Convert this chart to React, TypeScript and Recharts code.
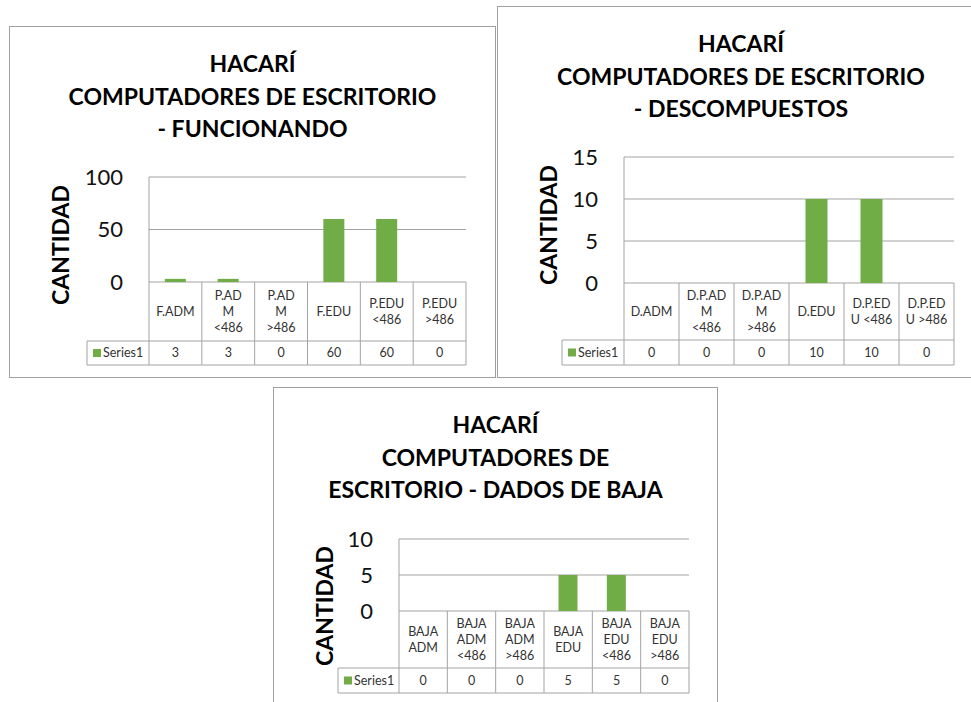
import React from "react";
import { BarChart, Bar, XAxis, YAxis, CartesianGrid } from "recharts";

// Funcionando
const funcCategories = ["F.ADM", "P.AD\nM\n<486", "P.AD\nM\n>486", "F.EDU", "P.EDU\n<486", "P.EDU\n>486"];
const funcValues = [3, 3, 0, 60, 60, 0];
const funcTicks = [0, 50, 100];

// Descompuestos
const descCategories = ["D.ADM", "D.P.AD\nM\n<486", "D.P.AD\nM\n>486", "D.EDU", "D.P.ED\nU <486", "D.P.ED\nU >486"];
const descValues = [0, 0, 0, 10, 10, 0];
const descTicks = [0, 5, 10, 15];

// Dados de baja
const bajaCategories = ["BAJA\nADM", "BAJA\nADM\n<486", "BAJA\nADM\n>486", "BAJA\nEDU", "BAJA\nEDU\n<486", "BAJA\nEDU\n>486"];
const bajaValues = [0, 0, 0, 5, 5, 0];
const bajaTicks = [0, 5, 10];

const seriesName = "Series1";

const GREEN = "#70AD47";
const LINE = "#a3a3a3";
const FONT = "Lato, 'Open Sans', sans-serif";

type Geo = {
  frame: { x: number; y: number; w: number; h: number };
  left: number;
  right: number;
  top: number;
  zero: number;
  catBottom: number;
  tableBottom: number;
  seriesLeft: number;
};

const TableTick = (props: any) => {
  const { x, payload, index, band, values, g } = props;
  const i = payload?.index ?? index;
  const lines: string[] = String(payload.value).split("\n");
  const x0 = x - band / 2;
  const x1 = x + band / 2;
  const catMid = (g.zero + g.catBottom) / 2;
  const valMid = (g.catBottom + g.tableBottom) / 2;
  const lh = 16;
  const startY = catMid - ((lines.length - 1) * lh) / 2;
  const last = i === values.length - 1;
  return (
    <g>
      <line x1={x0} x2={x0} y1={g.zero} y2={g.tableBottom} stroke={LINE} />
      {last && <line x1={x1} x2={x1} y1={g.zero} y2={g.tableBottom} stroke={LINE} />}
      <line x1={x0} x2={x1} y1={g.catBottom} y2={g.catBottom} stroke={LINE} />
      <line x1={x0} x2={x1} y1={g.tableBottom} y2={g.tableBottom} stroke={LINE} />
      {lines.map((l, k) => (
        <text key={k} x={x} y={startY + k * lh} dy="0.35em" textAnchor="middle" fontSize={12.5} fill="#333" fontFamily={FONT}>
          {l}
        </text>
      ))}
      <text x={x} y={valMid} dy="0.35em" textAnchor="middle" fontSize={12.5} fill="#333" fontFamily={FONT}>
        {values[i]}
      </text>
      {i === 0 && (
        <g>
          <line x1={g.seriesLeft} x2={x0} y1={g.catBottom} y2={g.catBottom} stroke={LINE} />
          <line x1={g.seriesLeft} x2={x0} y1={g.tableBottom} y2={g.tableBottom} stroke={LINE} />
          <line x1={g.seriesLeft} x2={g.seriesLeft} y1={g.catBottom} y2={g.tableBottom} stroke={LINE} />
          <rect x={g.seriesLeft + 6} y={valMid - 4} width={8} height={8} fill={GREEN} />
          <text x={g.seriesLeft + 16} y={valMid} dy="0.35em" fontSize={12.5} fill="#333" fontFamily={FONT}>
            {seriesName}
          </text>
        </g>
      )}
    </g>
  );
};

function Panel({ geo, title, categories, values, ticks }: { geo: Geo; title: string[]; categories: string[]; values: number[]; ticks: number[] }) {
  const f = geo.frame;
  // frame-relative geometry
  const g = {
    zero: geo.zero - f.y,
    catBottom: geo.catBottom - f.y,
    tableBottom: geo.tableBottom - f.y,
    seriesLeft: geo.seriesLeft - f.x,
  };
  const band = (geo.right - geo.left) / categories.length;
  const data = categories.map((c, i) => ({ name: c, value: values[i] }));
  return (
    <div style={{ position: "absolute", left: f.x, top: f.y, width: f.w, height: f.h, background: "#fff" }}>
      <div style={{ position: "absolute", inset: 0, border: "1px solid #a0a0a0" }} />
      <div
        style={{
          position: "absolute",
          left: 0,
          width: f.w,
          top: 21,
          textAlign: "center",
          fontFamily: FONT,
          fontWeight: 700,
          fontSize: 23,
          lineHeight: "32.5px",
          color: "#000",
        }}
      >
        {title.map((t, i) => (
          <div key={i}>{t}</div>
        ))}
      </div>
      <div
        style={{
          position: "absolute",
          left: 51,
          top: 219,
          transform: "translate(-50%, -50%) rotate(-90deg)",
          fontFamily: FONT,
          fontWeight: 700,
          fontSize: 23,
          whiteSpace: "nowrap",
          color: "#000",
        }}
      >
        CANTIDAD
      </div>
      <div style={{ position: "absolute", left: 0, top: 0 }}>
        <BarChart
          width={f.w}
          height={f.h}
          data={data}
          barCategoryGap="30%"
          margin={{ top: geo.top - f.y, right: f.x + f.w - geo.right, left: 0, bottom: f.y + f.h - geo.tableBottom }}
        >
          <CartesianGrid vertical={false} stroke={LINE} />
          <XAxis
            dataKey="name"
            height={geo.tableBottom - geo.zero}
            axisLine={false}
            tickLine={false}
            tickSize={0}
            tickMargin={0}
            interval={0}
            tick={<TableTick band={band} values={values} g={g} />}
          />
          <YAxis
            width={geo.left - f.x}
            domain={[0, ticks[ticks.length - 1]]}
            ticks={ticks}
            axisLine={{ stroke: LINE }}
            tickLine={false}
            tickSize={0}
            tickMargin={26}
            tick={{ fontSize: 22, fill: "#111", fontFamily: FONT }}
          />
          <Bar dataKey="value" fill={GREEN} isAnimationActive={false} />
        </BarChart>
      </div>
    </div>
  );
}

const geoFunc: Geo = {
  frame: { x: 9, y: 26, w: 487, h: 352 },
  left: 149,
  right: 466,
  top: 177,
  zero: 282,
  catBottom: 341,
  tableBottom: 365,
  seriesLeft: 87,
};

const geoDesc: Geo = {
  frame: { x: 497, y: 6, w: 488, h: 372 },
  left: 624,
  right: 954,
  top: 157,
  zero: 283,
  catBottom: 340,
  tableBottom: 365,
  seriesLeft: 562,
};

const geoBaja: Geo = {
  frame: { x: 273, y: 387, w: 445, h: 330 },
  left: 399,
  right: 689,
  top: 539,
  zero: 611,
  catBottom: 668,
  tableBottom: 693,
  seriesLeft: 338,
};

export default function App() {
  return (
    <div style={{ position: "absolute", left: 0, top: 0, width: 971, height: 702, overflow: "hidden", background: "#fff" }}>
      <Panel
        geo={geoFunc}
        title={["HACARÍ", "COMPUTADORES DE ESCRITORIO", "- FUNCIONANDO"]}
        categories={funcCategories}
        values={funcValues}
        ticks={funcTicks}
      />
      <Panel
        geo={geoDesc}
        title={["HACARÍ", "COMPUTADORES DE ESCRITORIO", "- DESCOMPUESTOS"]}
        categories={descCategories}
        values={descValues}
        ticks={descTicks}
      />
      <Panel
        geo={geoBaja}
        title={["HACARÍ", "COMPUTADORES DE", "ESCRITORIO - DADOS DE BAJA"]}
        categories={bajaCategories}
        values={bajaValues}
        ticks={bajaTicks}
      />
    </div>
  );
}
